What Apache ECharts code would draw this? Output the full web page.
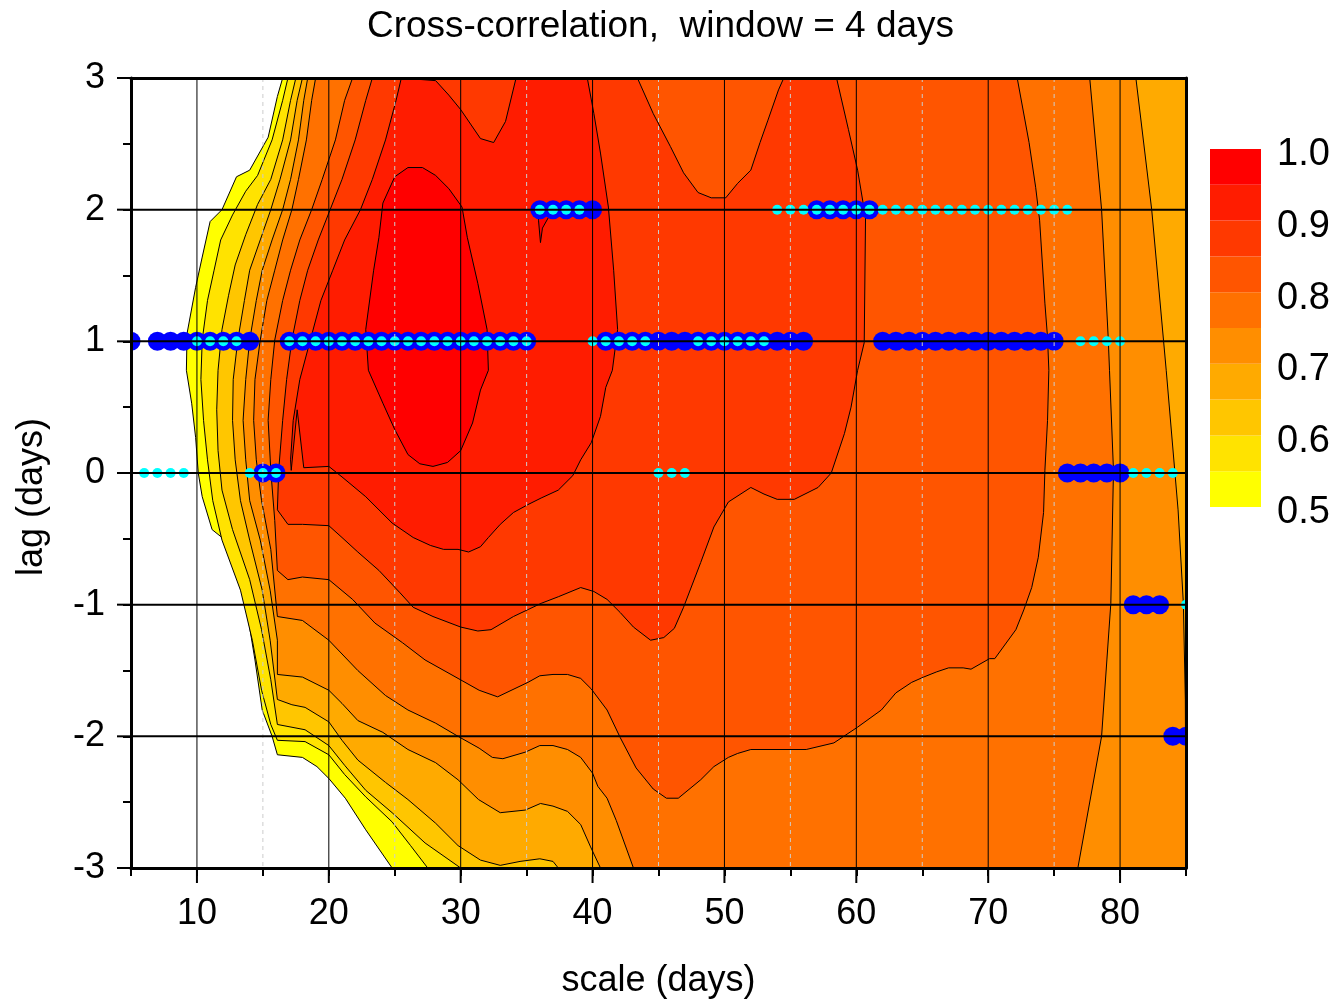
<!DOCTYPE html>
<html><head><meta charset="utf-8">
<script src="https://cdn.jsdelivr.net/npm/echarts@6/dist/echarts.min.js"></script>
<style>html,body{margin:0;padding:0;background:#fff}#chart{width:1339px;height:999px}</style>
</head><body><div id="chart"></div>
<script>
// ---------- data ----------
const levelEdges = [0.5,0.55,0.6,0.65,0.7,0.75,0.8,0.85,0.9,0.95,1.0];
const levelColors = ['#FFFF00','#FFE300','#FFC600','#FFAA00','#FF8E00','#FF7100','#FF5500','#FF3900','#FF1C00','#FF0000'];
const xMajor = [10,20,30,40,50,60,70,80];
const xMinor = [15,25,35,45,55,65,75];
const yMajor = [-2,-1,0,1,2];
const yTickMajor = [-3,-2,-1,0,1,2,3];

// contour lines (scale, lag)
const c50 = [[16.5,3],[16.1,2.86],[15.4,2.55],[14.0,2.30],[13.0,2.25],[11.9,2.0],[11.0,1.91],[10.4,1.64],[9.9,1.41],[9.25,1.06],[9.2,0.78],[9.6,0.53],[9.9,0.27],[10.1,0],[10.4,-0.18],[11.15,-0.43],[11.9,-0.49],[12.75,-0.68],[13.7,-0.99],[14.4,-1.42],[14.95,-1.80],[15.7,-2.0],[16.1,-2.14],[18.0,-2.16],[19.1,-2.23],[20.0,-2.32],[21.25,-2.47],[22.8,-2.71],[24.8,-3]];
const c55 = [[16.9,3],[16.5,2.83],[15.7,2.53],[14.6,2.26],[13.7,2.14],[12.7,1.96],[11.8,1.77],[11.3,1.54],[10.8,1.31],[10.4,1.01],[10.3,0.71],[10.5,0.40],[10.8,0.10],[11.2,-0.21],[11.9,-0.51],[13.3,-0.89],[14.2,-1.27],[14.9,-1.65],[15.6,-1.91],[16.1,-2.03],[18.2,-2.04],[20.0,-2.14],[21.2,-2.29],[22.8,-2.46],[24.8,-2.65],[26.2,-2.83],[27.5,-3]];
const c60 = [[17.5,3],[17.1,2.83],[16.5,2.53],[15.6,2.23],[14.6,2.04],[13.7,1.81],[12.9,1.58],[12.4,1.35],[11.9,1.09],[11.6,0.78],[11.5,0.48],[11.6,0.17],[11.9,-0.13],[12.7,-0.43],[14.0,-0.81],[14.9,-1.19],[15.6,-1.57],[16.1,-1.91],[18.2,-1.95],[20.0,-2.07],[21.2,-2.22],[22.8,-2.41],[24.8,-2.58],[27.3,-2.81],[30.0,-3]];
const c65 = [[18.0,3],[17.6,2.83],[17.1,2.53],[16.3,2.23],[15.6,2.0],[14.8,1.77],[14.0,1.54],[13.6,1.31],[13.1,1.01],[12.75,0.71],[12.7,0.40],[12.9,0.10],[13.3,-0.21],[14.0,-0.51],[14.95,-0.89],[15.55,-1.27],[16.1,-1.72],[17.2,-1.76],[18.2,-1.78],[20.0,-1.89],[21.0,-2.03],[22.2,-2.18],[24.3,-2.35],[26.0,-2.48],[28.1,-2.66],[29.8,-2.83],[31.5,-2.94],[33.0,-2.98],[34.5,-2.95],[36.0,-2.93],[37.0,-2.95],[37.4,-3]];
const c70 = [[18.4,3],[18.1,2.83],[17.7,2.53],[17.1,2.23],[16.5,2.0],[15.7,1.77],[14.95,1.54],[14.5,1.31],[14.0,1.01],[13.7,0.71],[13.5,0.40],[13.7,0.10],[14.0,-0.21],[14.8,-0.51],[15.55,-0.89],[16.1,-1.27],[16.1,-1.53],[18.0,-1.55],[20.0,-1.65],[21.0,-1.75],[22.2,-1.88],[24.1,-1.97],[26.0,-2.10],[28.1,-2.20],[29.8,-2.33],[31.35,-2.48],[33.0,-2.58],[34.9,-2.56],[36.05,-2.51],[37.0,-2.53],[38.1,-2.57],[39.1,-2.67],[39.85,-2.84],[40.6,-3]];
const c70right = [[85.0,-3],[84.95,-1.72],[84.8,-0.99],[84.4,-0.28],[83.5,0.78],[82.4,2.0],[81.2,3]];
const c75 = [[19.0,3],[18.7,2.83],[18.3,2.53],[17.7,2.23],[17.2,2.0],[16.5,1.77],[15.9,1.54],[15.3,1.31],[14.8,1.01],[14.4,0.71],[14.3,0.40],[14.5,0.10],[14.9,-0.21],[15.6,-0.58],[16.1,-1.09],[18.0,-1.12],[20.0,-1.27],[22.2,-1.50],[24.3,-1.69],[26.0,-1.80],[28.1,-1.90],[29.8,-2.00],[31.4,-2.09],[32.4,-2.16],[33.2,-2.17],[34.9,-2.12],[36.0,-2.07],[37.0,-2.07],[38.1,-2.10],[39.1,-2.16],[40.0,-2.28],[40.4,-2.38],[41.1,-2.47],[41.8,-2.64],[43.1,-3]];
const c75right = [[76.8,-3],[78.6,-2.0],[79.0,-1.42],[79.3,-0.99],[79.5,0.02],[79.2,0.78],[79.1,1.03],[78.6,2.0],[77.7,3]];
const c80 = [[21.8,3],[21.2,2.83],[20.5,2.53],[19.5,2.23],[18.7,2.0],[17.8,1.77],[17.1,1.54],[16.5,1.31],[15.9,1.01],[15.6,0.71],[15.4,0.40],[15.6,0.02],[15.9,-0.36],[16.1,-0.74],[16.9,-0.81],[18.0,-0.79],[20.0,-0.81],[21.8,-0.96],[23.5,-1.14],[25.6,-1.29],[27.3,-1.42],[29.8,-1.56],[31.4,-1.65],[32.8,-1.70],[35.1,-1.59],[36.0,-1.54],[37.0,-1.53],[38.1,-1.53],[39.1,-1.56],[39.9,-1.64],[41.1,-1.80],[42.1,-2.01],[43.3,-2.24],[44.6,-2.40],[45.6,-2.47],[46.5,-2.47],[48.2,-2.33],[49.2,-2.23],[50.3,-2.16],[51.0,-2.13],[52.0,-2.10],[56.2,-2.10],[58.3,-2.05],[60.1,-1.93],[61.9,-1.80],[63.0,-1.67],[64.2,-1.59],[65.1,-1.55],[66.1,-1.51],[67.0,-1.48],[68.1,-1.48],[68.7,-1.49],[70.1,-1.41],[70.5,-1.41],[72.1,-1.19],[72.7,-1.04],[73.3,-0.87],[73.8,-0.64],[74.2,-0.30],[74.3,0.02],[74.5,0.40],[74.6,0.78],[74.5,1.03],[74.3,1.29],[73.9,1.92],[73.6,2.17],[73.1,2.51],[72.2,3]];
const c85 = [[23.3,3],[22.8,2.83],[22.0,2.53],[21.0,2.23],[20.1,2.0],[19.2,1.77],[18.4,1.54],[17.8,1.31],[17.2,1.01],[16.8,0.71],[16.5,0.40],[16.2,0.02],[16.1,-0.28],[16.9,-0.39],[18.0,-0.39],[20.0,-0.40],[21.0,-0.49],[22.2,-0.60],[23.8,-0.74],[25.4,-0.91],[26.4,-1.02],[27.9,-1.09],[30.0,-1.17],[31.3,-1.20],[32.3,-1.19],[34.0,-1.09],[36.1,-0.99],[37.4,-0.94],[39.1,-0.87],[40.1,-0.90],[41.1,-0.96],[42.1,-1.06],[43.1,-1.17],[44.4,-1.27],[45.4,-1.25],[46.2,-1.18],[46.9,-1.02],[48.2,-0.68],[49.2,-0.41],[50.3,-0.22],[52.0,-0.11],[53.0,-0.16],[54.0,-0.20],[55.3,-0.20],[57.1,-0.11],[58.1,0.0],[59.1,0.30],[59.6,0.50],[60.1,0.78],[60.6,0.99],[60.7,1.94],[60.1,2.30],[59.4,2.61],[58.5,3]];
const c85pocket = [[54.5,3],[54.1,2.91],[53.3,2.68],[52.7,2.51],[52.0,2.30],[51.0,2.20],[50.1,2.09],[49.0,2.09],[48.0,2.13],[46.9,2.28],[45.9,2.48],[44.6,2.73],[43.4,3]];
const c90 = [[25.5,3],[25.1,2.83],[24.3,2.53],[23.3,2.23],[22.4,2.0],[21.2,1.77],[20.3,1.54],[19.4,1.31],[18.6,1.01],[17.8,0.71],[17.3,0.40],[17.1,0.10],[17.15,0.02],[17.6,0.48],[18.1,0.04],[20.0,0.05],[21.0,-0.03],[22.8,-0.18],[24.8,-0.38],[26.4,-0.49],[27.7,-0.55],[28.7,-0.58],[29.8,-0.58],[30.6,-0.60],[31.5,-0.56],[32.1,-0.49],[33.0,-0.39],[34.0,-0.30],[35.1,-0.24],[36.1,-0.19],[37.4,-0.13],[38.5,-0.02],[39.1,0.10],[39.9,0.23],[40.6,0.43],[41.0,0.65],[41.5,0.78],[41.9,1.09],[41.6,1.54],[41.2,2.02],[40.6,2.43],[40.1,2.73],[39.6,3]];
const c90pocket = [[34.2,3],[33.4,2.67],[32.5,2.51],[31.5,2.54],[30.0,2.76],[29.1,2.87],[28.1,2.98]];
const c95 = [[26.0,2.32],[27.1,2.32],[28.1,2.26],[29.1,2.16],[30.1,2.02],[30.5,1.79],[31.3,1.44],[32.0,1.09],[32.1,0.78],[31.5,0.63],[30.9,0.38],[30.0,0.17],[29.0,0.08],[27.9,0.05],[26.9,0.07],[26.0,0.14],[25.0,0.33],[24.1,0.53],[23.0,0.78],[22.8,1.09],[23.4,1.54],[23.8,1.79],[24.1,2.05],[25.0,2.25]];
const c95sliver = [[35.9,2.02],[35.9,1.92],[36.05,1.75],[36.2,1.86],[36.65,1.94],[37.0,2.02]];

// significant points: blue = large markers, cyan = small markers
const blueAtLag2  = [36,37,38,39,40,57,58,59,60,61];
const blueAtLag1  = [5,7,8,9,10,11,12,13,14,17,18,19,20,21,22,23,24,25,26,27,28,29,30,31,32,33,34,35,41,42,43,44,45,46,47,48,49,50,51,52,53,54,55,56,62,63,64,65,66,67,68,69,70,71,72,73,74,75];
const blueAtLag0  = [15,16,76,77,78,79,80];
const blueAtLagM1 = [81,82,83];
const blueAtLagM2 = [84,85];
const cyanAtLag2  = [36,37,38,39,54,55,56,57,58,59,60,61,62,63,64,65,66,67,68,69,70,71,72,73,74,75,76];
const cyanAtLag1  = [10,11,12,13,17,18,19,20,21,22,23,24,25,26,27,28,29,30,31,32,33,34,35,40,41,42,43,44,48,49,50,51,52,53,77,78,79,80];
const cyanAtLag0  = [6,7,8,9,14,15,16,45,46,47,81,82,83,84];
const cyanAtLagM1 = [85];

// ---------- build ----------
const X0 = 5, X1 = 85, Y0 = -3, Y1 = 3;
const regions = [
  {lv: 0, pts: c50.concat([[X1,Y0],[X1,Y1]])},
  {lv: 1, pts: c55.concat([[X1,Y0],[X1,Y1]])},
  {lv: 2, pts: c60.concat([[X1,Y0],[X1,Y1]])},
  {lv: 3, pts: c65.concat([[X1,Y0],[X1,Y1]])},
  {lv: 4, pts: c70.concat(c70right)},
  {lv: 5, pts: c75.concat(c75right)},
  {lv: 6, pts: c80},
  {lv: 7, pts: c85.concat(c85pocket)},
  {lv: 8, pts: c90.concat(c90pocket)},
  {lv: 9, pts: c95},
  {lv: 9, pts: c95sliver}
];
const rows = (arr, lag) => arr.map(s => [s, lag]);
const blueDots = [].concat(rows(blueAtLag2,2), rows(blueAtLag1,1), rows(blueAtLag0,0), rows(blueAtLagM1,-1), rows(blueAtLagM2,-2));
const cyanDots = [].concat(rows(cyanAtLag2,2), rows(cyanAtLag1,1), rows(cyanAtLag0,0), rows(cyanAtLagM1,-1));

const FONT = '"Liberation Sans", Arial, Helvetica, sans-serif';
const chart = echarts.init(document.getElementById('chart'), null, {renderer:'canvas'});

const frameAxis = {axisLine: {onZero: false, lineStyle: {color: '#000', width: 3}}, axisTick: {show: false},
                   axisLabel: {show: false}, splitLine: {show: false}};

const option = {
  animation: false,
  backgroundColor: '#ffffff',
  textStyle: {fontFamily: FONT, color: '#000'},
  title: {text: 'Cross-correlation,  window = 4 days', left: 362, top: 3,
          textStyle: {fontFamily: FONT, fontSize: 37, fontWeight: 'normal', color: '#000'}},
  grid: [
    {left: 131, top: 78, width: 1055, height: 790, containLabel: false, outerBoundsMode: 'none'},
    {left: 1210, top: 149, width: 51, height: 358, containLabel: false, outerBoundsMode: 'none'}
  ],
  xAxis: [
    {gridIndex: 0, type: 'value', min: X0, max: X1, interval: 5, z: 10,
     name: 'scale (days)', nameLocation: 'middle', nameGap: 95,
     nameTextStyle: {fontFamily: FONT, fontSize: 36, color: '#000'},
     axisLine: {onZero: false, lineStyle: {color: '#000', width: 3}},
     axisTick: {inside: false, length: 8, lineStyle: {color: '#000', width: 2}},
     axisLabel: {margin: 28, fontFamily: FONT, fontSize: 36, color: '#000',
                 formatter: v => (xMajor.indexOf(v) >= 0 ? String(v) : '')},
     splitLine: {show: false}},
    Object.assign({gridIndex: 0, type: 'value', min: X0, max: X1, position: 'top', z: 10}, frameAxis),
    {gridIndex: 1, type: 'value', min: 0, max: 1, show: false}
  ],
  yAxis: [
    {gridIndex: 0, type: 'value', min: Y0, max: Y1, interval: 0.5, z: 10,
     name: 'lag (days)', nameLocation: 'middle', nameGap: 81, nameRotate: 90,
     nameTextStyle: {fontFamily: FONT, fontSize: 36, color: '#000', padding: [0, 48, 0, 0]},
     axisLine: {onZero: false, lineStyle: {color: '#000', width: 3}},
     axisTick: {inside: false, length: 8, lineStyle: {color: '#000', width: 2}},
     axisLabel: {margin: 26, fontFamily: FONT, fontSize: 36, color: '#000',
                 formatter: v => (Number.isInteger(v) ? String(v) : '')},
     splitLine: {show: false}},
    Object.assign({gridIndex: 0, type: 'value', min: Y0, max: Y1, position: 'right', z: 10}, frameAxis),
    {gridIndex: 1, type: 'value', min: levelEdges[0], max: levelEdges[levelEdges.length-1],
     interval: 0.1, position: 'right',
     axisLine: {show: false}, axisTick: {show: false}, splitLine: {show: false},
     axisLabel: {margin: 16, color: '#000',
                 formatter: v => '{a|' + v.toFixed(1) + '}',
                 rich: {a: {fontFamily: FONT, fontSize: 38, color: '#000', padding: [12, 0, 0, 0]}}}}
  ],
  series: [
    { // filled contour bands (superlevel regions drawn lowest first)
      type: 'custom', xAxisIndex: 0, yAxisIndex: 0, clip: true, z: 2, silent: true,
      data: regions.map((r, i) => [X0, Y0, i]),
      renderItem: (params, api) => {
        const r = regions[api.value(2)];
        const pts = r.pts.map(p => api.coord(p));
        return {type: 'polygon', shape: {points: pts},
                style: {fill: levelColors[r.lv], stroke: '#000', lineWidth: 1, lineJoin: 'round'}};
      }
    },
    { // large blue markers
      type: 'custom', xAxisIndex: 0, yAxisIndex: 0, clip: true, z: 3, silent: true,
      data: blueDots,
      renderItem: (params, api) => {
        const c = api.coord([api.value(0), api.value(1)]);
        return {type: 'circle', shape: {cx: c[0], cy: c[1], r: 9.5}, style: {fill: '#0000FF'}};
      }
    },
    { // small cyan markers
      type: 'custom', xAxisIndex: 0, yAxisIndex: 0, clip: true, z: 4, silent: true,
      data: cyanDots,
      renderItem: (params, api) => {
        const c = api.coord([api.value(0), api.value(1)]);
        return {type: 'circle', shape: {cx: c[0], cy: c[1], r: 5}, style: {fill: '#00FFFF'}};
      }
    },
    { // grid lines and long ticks
      type: 'custom', xAxisIndex: 0, yAxisIndex: 0, clip: false, z: 5, silent: true,
      data: [[X0, Y0]],
      renderItem: (params, api) => {
        const ch = [];
        const seg = (a, b, style) => {
          const p = api.coord(a), q = api.coord(b);
          ch.push({type: 'line', shape: {x1: p[0], y1: p[1], x2: q[0], y2: q[1]}, style});
        };
        xMinor.forEach(v => seg([v, Y1], [v, Y0], {stroke: '#cccccc', lineWidth: 1, lineDash: [4, 4]}));
        xMajor.forEach(v => seg([v, Y1], [v, Y0], {stroke: '#000', lineWidth: 1}));
        yMajor.forEach(v => seg([X0, v], [X1, v], {stroke: '#000', lineWidth: 2}));
        xMajor.forEach(v => {
          const p = api.coord([v, Y0]);
          ch.push({type: 'line', shape: {x1: p[0], y1: p[1], x2: p[0], y2: p[1] + 15}, style: {stroke: '#000', lineWidth: 2}});
        });
        yTickMajor.forEach(v => {
          const p = api.coord([X0, v]);
          ch.push({type: 'line', shape: {x1: p[0] - 14, y1: p[1], x2: p[0], y2: p[1]}, style: {stroke: '#000', lineWidth: 2}});
        });
        return {type: 'group', children: ch};
      }
    },
    { // colour bar
      type: 'custom', xAxisIndex: 2, yAxisIndex: 2, z: 2, silent: true,
      data: levelColors.map((c, i) => [0, levelEdges[i], i]),
      renderItem: (params, api) => {
        const i = api.value(2);
        const a = api.coord([0, levelEdges[i]]), b = api.coord([1, levelEdges[i + 1]]);
        return {type: 'rect', shape: {x: a[0], y: b[1], width: b[0] - a[0], height: a[1] - b[1]},
                style: {fill: levelColors[i]}};
      }
    }
  ]
};
chart.setOption(option);
</script>
</body></html>
